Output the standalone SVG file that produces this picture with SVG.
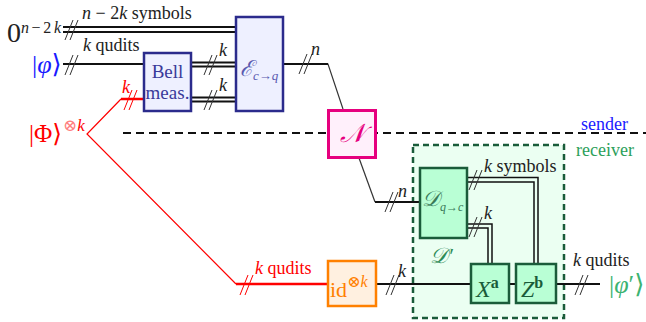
<svg xmlns="http://www.w3.org/2000/svg" width="646" height="322" viewBox="0 0 646 322" font-size="18">
<style>
text{font-family:"Liberation Serif","DejaVu Serif",serif;}
.it{font-style:italic;}
.w{fill:none;stroke:#111;stroke-width:2;}
.wt{fill:none;stroke:#111;stroke-width:1.5;}
.thin{fill:none;stroke:#333;stroke-width:1.2;}
.sl{fill:none;stroke:#333;stroke-width:1;}
.red{fill:none;stroke:#ff0000;stroke-width:2.5;}
.redthin{fill:none;stroke:#ff0000;stroke-width:1.2;}
.sb{fill:none;stroke:#ff0000;stroke-width:1;}
.blue{fill:#eef0ff;stroke:#2b2b8c;stroke-width:2.5;}
.green{fill:#b9ffd5;stroke:#1a5c3a;stroke-width:2.5;}
.lbl{fill:#222;}
</style>
<defs>
<path id="slash" d="M-4,10 L4,-10 M1,10 L9,-10"/>
</defs>

<g id="region-receiver">
<rect x="413" y="145" width="151" height="173" fill="#ebfff2" stroke="#1a5c3a" stroke-width="2.5" stroke-dasharray="6 4"/>
<text x="430" y="263" class="it" fill="#2e8b57" font-size="22">𝒟′</text>
</g>

<g id="connectors">
<line x1="63" y1="27" x2="236" y2="27" class="w"/>
<line x1="63" y1="32" x2="236" y2="32" class="w"/>
<use href="#slash" x="69" y="30" class="sl"/>
<line x1="63" y1="64" x2="144" y2="64" class="w"/>
<use href="#slash" x="69" y="65" class="sl"/>
<line x1="191" y1="62.5" x2="236" y2="62.5" class="w"/>
<line x1="191" y1="66.5" x2="236" y2="66.5" class="w"/>
<use href="#slash" x="208" y="65" class="sl"/>
<line x1="191" y1="97.5" x2="236" y2="97.5" class="w"/>
<line x1="191" y1="101.5" x2="236" y2="101.5" class="w"/>
<use href="#slash" x="208" y="100" class="sl"/>
<polyline points="283,64 328,64 343,109" class="thin"/>
<line x1="283" y1="64" x2="328" y2="64" class="w"/>
<use href="#slash" x="303" y="64" class="sl"/>
<line x1="123" y1="133" x2="646" y2="133" stroke="#111" stroke-width="2" stroke-dasharray="8 5"/>
<polyline points="359,158 375,202" class="thin"/>
<line x1="375" y1="202" x2="420" y2="202" class="w"/>
<use href="#slash" x="389" y="202" class="sl"/>
<polyline points="467,177.5 538,177.5 538,264" class="wt"/>
<polyline points="467,182 534,182 534,264" class="wt" stroke-width="2.2"/>
<use href="#slash" x="473" y="180" class="sl"/>
<polyline points="467,224 492,224 492,264" class="wt"/>
<polyline points="467,228 488,228 488,264" class="wt" stroke-width="2.2"/>
<use href="#slash" x="473" y="227" class="sl"/>
<polyline points="121,99 87,134 236,284" class="redthin"/>
<line x1="121" y1="99" x2="144" y2="99" class="red"/>
<use href="#slash" x="128" y="100" class="sb"/>
<line x1="236" y1="284" x2="327" y2="284" class="red"/>
<use href="#slash" x="244" y="285" class="sb"/>
<line x1="377" y1="284" x2="471" y2="284" class="w" stroke-width="2.5"/>
<use href="#slash" x="390" y="285" class="sl"/>
<line x1="509" y1="284" x2="516" y2="284" class="w" stroke-width="2.5"/>
<line x1="556" y1="284" x2="600" y2="284" class="w" stroke-width="2.5"/>
<use href="#slash" x="579" y="285" class="sl"/>
</g>

<g id="labels">
<text x="7" y="42" font-size="28" class="lbl">0</text>
<text x="21" y="33" font-size="16" class="lbl" textLength="40" lengthAdjust="spacing"><tspan class="it">n</tspan>−2<tspan class="it">k</tspan></text>
<text x="82" y="19" class="lbl"><tspan class="it">n</tspan> − 2<tspan class="it">k</tspan> symbols</text>
<text x="83" y="51" class="lbl"><tspan class="it">k</tspan> qudits</text>
<text x="32" y="73" font-size="26" fill="#1a1aff">|<tspan class="it">φ</tspan>⟩</text>
<text x="219" y="56" class="lbl it">k</text>
<text x="219" y="91" class="lbl it">k</text>
<text x="122" y="93" class="it" fill="#ff0000">k</text>
<text x="311" y="55" class="lbl it">n</text>
<text x="29" y="142" font-size="25" fill="#ff0000">|Φ⟩</text>
<text x="63" y="131" font-size="17" fill="#ff0000"><tspan fill="#ff8080">⊗</tspan><tspan class="it">k</tspan></text>
<text x="581" y="130" fill="#1a1aff">sender</text>
<text x="576" y="156" fill="#2ca05a">receiver</text>
<text x="398" y="197" class="lbl it">n</text>
<text x="484" y="172" class="lbl"><tspan class="it">k</tspan> symbols</text>
<text x="484" y="219" class="lbl it">k</text>
<text x="255" y="274" fill="#ff0000"><tspan class="it">k</tspan> qudits</text>
<text x="398" y="277" class="lbl it">k</text>
<text x="573" y="266" class="lbl"><tspan class="it">k</tspan> qudits</text>
<text x="609" y="293" font-size="26" fill="#3cb371">|<tspan class="it">φ</tspan>′⟩</text>
</g>

<g id="node-bell">
<rect x="144" y="53" width="47" height="58" class="blue"/>
<text x="167.5" y="78" text-anchor="middle" fill="#3a3a9a" font-size="19">Bell</text>
<text x="167.5" y="99" text-anchor="middle" fill="#3a3a9a" font-size="19">meas.</text>
</g>

<g id="node-encoder">
<rect x="236" y="17" width="47" height="94" class="blue"/>
<text x="240" y="76" font-size="22" class="it" fill="#5a5ab0">ℰ<tspan font-size="13" dy="4">c→q</tspan></text>
</g>

<g id="node-channel">
<rect x="328.5" y="110.5" width="47" height="47" fill="#fff0fb" stroke="#e6007e" stroke-width="3"/>
<text x="352" y="142" text-anchor="middle" font-size="26" class="it" fill="#e6007e">𝒩</text>
</g>

<g id="node-id">
<rect x="328" y="261" width="48" height="45" fill="#fff0e0" stroke="#ff8000" stroke-width="2.5"/>
<text x="330" y="297" font-size="22" fill="#ff8000">id<tspan font-size="16" dy="-10">⊗<tspan class="it">k</tspan></tspan></text>
</g>

<g id="node-decoder">
<rect x="420" y="168" width="47" height="70" class="green"/>
<text x="422" y="206" font-size="22" class="it" fill="#3a7a5a">𝒟<tspan font-size="12" dy="5">q→c</tspan></text>
</g>

<g id="node-x">
<rect x="471" y="264" width="38" height="39" class="green"/>
<text x="476" y="297" font-size="24" fill="#1a5c3a"><tspan class="it">X</tspan><tspan font-size="16" font-weight="bold" dy="-9">a</tspan></text>
</g>

<g id="node-z">
<rect x="516" y="264" width="40" height="39" class="green"/>
<text x="521" y="297" font-size="24" fill="#1a5c3a"><tspan class="it">Z</tspan><tspan font-size="16" font-weight="bold" dy="-9">b</tspan></text>
</g>
</svg>
